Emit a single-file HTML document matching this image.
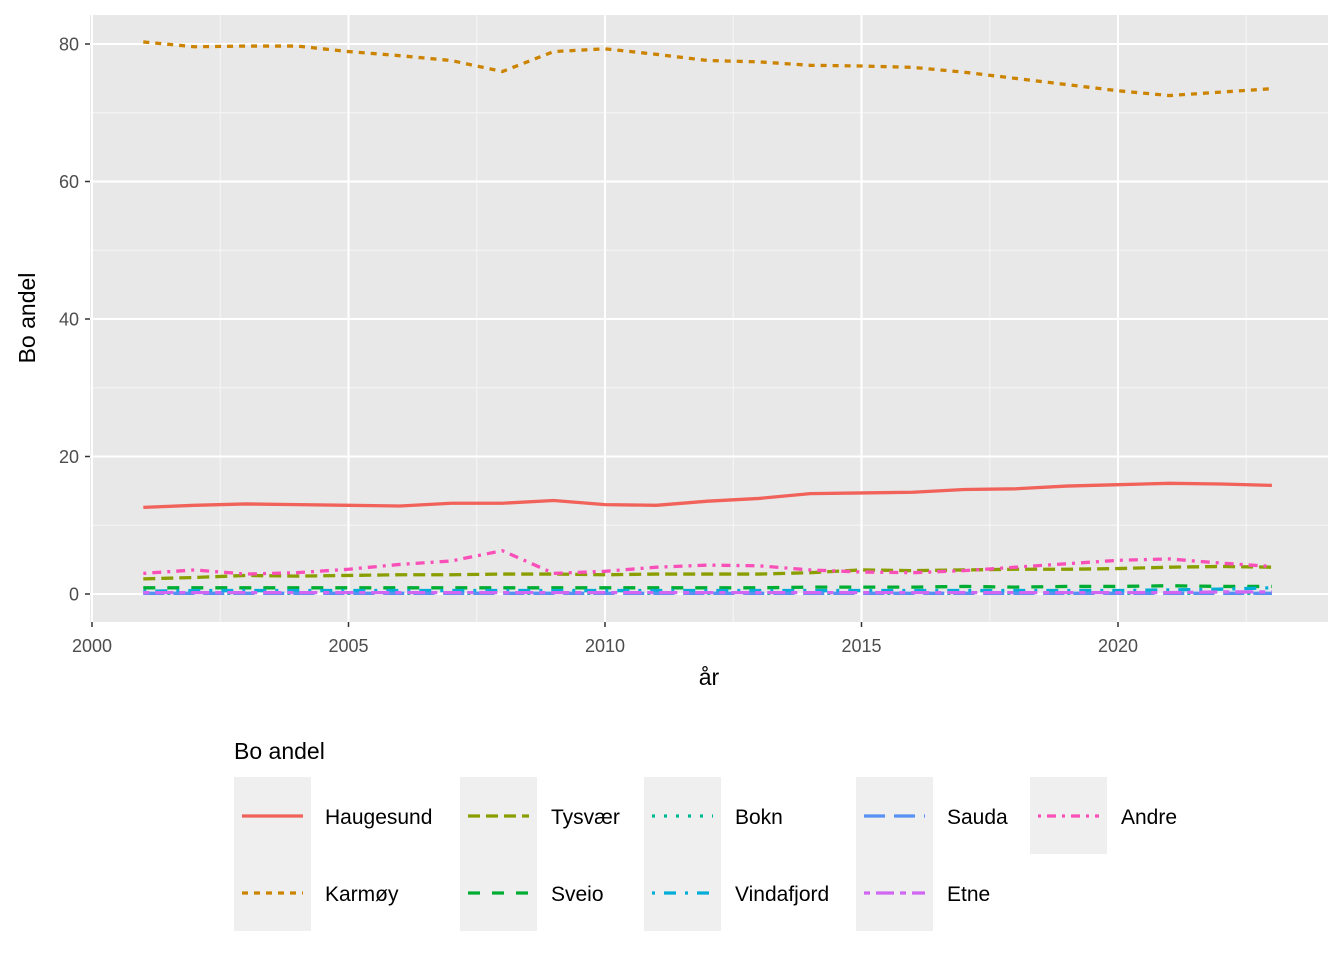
<!DOCTYPE html>
<html><head><meta charset="utf-8"><style>
body{margin:0;background:#fff;font-family:"Liberation Sans",Arial,sans-serif}
svg text{font-family:"Liberation Sans",Arial,sans-serif}
</style></head><body>
<svg id="chart" width="1344" height="960" xmlns="http://www.w3.org/2000/svg">
<rect x="90" y="15" width="1238" height="607" fill="#e8e8e8"/>
<g id="grid"></g><g id="series"></g><g id="axes"></g><g id="legend"></g>
</svg>
<script>
const years=[2001,2002,2003,2004,2005,2006,2007,2008,2009,2010,2011,2012,2013,2014,2015,2016,2017,2018,2019,2020,2021,2022,2023];
const names=["Haugesund","Karmøy","Tysvær","Sveio","Bokn","Vindafjord","Sauda","Etne","Andre"];
const haugesund=[12.6,12.9,13.1,13.0,12.9,12.8,13.2,13.2,13.6,13.0,12.9,13.5,13.9,14.6,14.7,14.8,15.2,15.3,15.7,15.9,16.1,16.0,15.8];
const karmoy=[80.3,79.6,79.7,79.7,78.9,78.3,77.6,76.0,78.9,79.3,78.5,77.6,77.4,76.9,76.8,76.6,75.9,75.0,74.1,73.2,72.5,73.0,73.5];
const tysvaer=[2.2,2.4,2.7,2.6,2.7,2.8,2.8,2.9,2.9,2.8,2.9,2.9,2.9,3.1,3.5,3.4,3.5,3.6,3.6,3.7,3.9,4.0,3.9];
const sveio=[0.9,0.9,0.9,0.9,0.9,0.9,0.9,0.9,0.9,0.9,0.9,0.9,0.9,1.0,1.0,1.0,1.1,1.0,1.1,1.1,1.2,1.1,1.1];
const bokn=[0.1,0.1,0.1,0.1,0.1,0.1,0.1,0.1,0.1,0.1,0.1,0.1,0.1,0.1,0.1,0.1,0.1,0.1,0.1,0.1,0.1,0.1,0.1];
const vindafjord=[0.4,0.5,0.5,0.5,0.5,0.5,0.5,0.5,0.5,0.5,0.5,0.5,0.5,0.5,0.5,0.5,0.5,0.5,0.5,0.5,0.6,0.7,0.9];
const sauda=[0.1,0.1,0.1,0.1,0.1,0.1,0.1,0.1,0.1,0.1,0.1,0.1,0.1,0.1,0.1,0.1,0.1,0.1,0.1,0.1,0.1,0.1,0.1];
const etne=[0.2,0.2,0.2,0.2,0.2,0.2,0.2,0.2,0.2,0.2,0.2,0.2,0.2,0.2,0.2,0.2,0.2,0.2,0.2,0.2,0.2,0.3,0.3];
const andre=[3.0,3.5,2.9,3.1,3.6,4.3,4.8,6.3,3.0,3.3,3.9,4.2,4.1,3.5,3.2,3.1,3.4,3.9,4.4,4.9,5.1,4.5,4.0];
const xTicks=[2000,2005,2010,2015,2020];
const yTicks=[0,20,40,60,80];
const allSeries=[haugesund,karmoy,tysvaer,sveio,bokn,vindafjord,sauda,etne,andre];
const colors=["#F0625A","#CC8400","#8A9E00","#00AD33","#00B892","#00ADD8","#5590F5","#D066F2","#F850B8"];
const dashes=["","6,6","12,6","12,12","3,9","3,9,12,9","21,9","6,6,18,6","3,6,9,6"];
const NS="http://www.w3.org/2000/svg";
const X=v=>92+(v-2000)*51.3;
const Y=v=>594-v*6.875;
function mk(tag,attrs,parent){const e=document.createElementNS(NS,tag);for(const k in attrs)e.setAttribute(k,attrs[k]);parent.appendChild(e);return e;}
const grid=document.getElementById('grid'),axes=document.getElementById('axes'),ser=document.getElementById('series'),leg=document.getElementById('legend');
for(let v=10;v<=90;v+=20){const y=Y(v);if(y<15)continue;const l=mk('line',{x1:90,x2:1328,y1:y,y2:y,stroke:'#f5f5f5','stroke-width':1},grid);

}
for(let v=2002.5;v<2025;v+=5){const x=X(v);const l=mk('line',{x1:x,x2:x,y1:15,y2:622,stroke:'#f5f5f5','stroke-width':1},grid);

}
yTicks.forEach(v=>{const y=Y(v);const l=mk('line',{x1:90,x2:1328,y1:y,y2:y,stroke:'#fff','stroke-width':2},grid);


const t=mk('line',{x1:85,x2:90,y1:y,y2:y,stroke:'#333','stroke-width':1.5},axes);


const tx=mk('text',{x:79,y:y+6.5,'text-anchor':'end','font-size':18,fill:'#4d4d4d'},axes);tx.textContent=v;

});
xTicks.forEach(v=>{const x=X(v);const l=mk('line',{x1:x,x2:x,y1:15,y2:622,stroke:'#fff','stroke-width':2},grid);


const t=mk('line',{x1:x,x2:x,y1:622,y2:627,stroke:'#333','stroke-width':1.5},axes);


const tx=mk('text',{x:x,y:652,'text-anchor':'middle','font-size':18,fill:'#4d4d4d'},axes);tx.textContent=v;

});
const xt=mk('text',{x:709,y:685,'text-anchor':'middle','font-size':23,fill:'#000'},axes);xt.textContent='år';


const yt=mk('text',{x:0,y:0,'text-anchor':'middle','font-size':23,fill:'#000',transform:'translate(35,318) rotate(-90)'},axes);yt.textContent='Bo andel';


allSeries.forEach((s,i)=>{const p=mk('polyline',{points:s.map((v,j)=>X(years[j])+','+Y(v)).join(' '),fill:'none',stroke:colors[i],'stroke-width':3.3,'stroke-dasharray':dashes[i]},ser);

});
const lt=mk('text',{x:234,y:759,'font-size':23,fill:'#000'},leg);lt.textContent='Bo andel';


const colX=[234,460,644,856,1030];
names.forEach((n,i)=>{const c=Math.floor(i/2),r=i%2;const kx=colX[c],ky=777+r*77;
const b=mk('rect',{x:kx,y:ky,width:77,height:77,fill:'#efefef'},leg);


const l=mk('line',{x1:kx+8,x2:kx+69,y1:ky+39,y2:ky+39,stroke:colors[i],'stroke-width':3.3,'stroke-dasharray':dashes[i]},leg);


const t=mk('text',{x:kx+91,y:ky+47,'font-size':21,fill:'#000'},leg);t.textContent=n;

});
</script>
</body></html>
